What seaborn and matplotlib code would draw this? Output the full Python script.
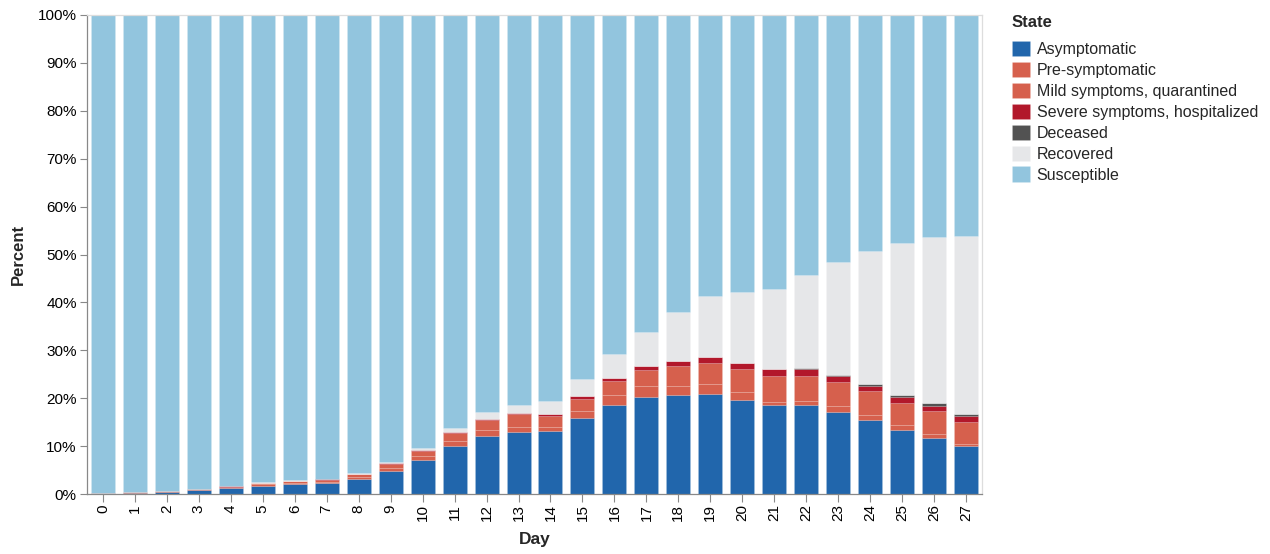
import numpy as np
import pandas as pd
import matplotlib
matplotlib.use("Agg")
import matplotlib.pyplot as plt
from matplotlib.patches import Patch
import seaborn as sns

days = list(range(28))
states = ["Asymptomatic", "Pre-symptomatic", "Mild symptoms, quarantined",
          "Severe symptoms, hospitalized", "Deceased", "Recovered", "Susceptible"]
colors = ["#2166ac", "#d6604d", "#d6604d", "#b2182b", "#525252", "#e6e7e9", "#92c5de"]

asymptomatic = [0.1, 0.2, 0.5, 0.77, 1.25, 1.74, 2.0, 2.2, 3.2, 4.9, 7.2, 10.0, 12.2, 12.9,
                13.2, 15.9, 18.6, 20.2, 20.6, 20.9, 19.7, 18.6, 18.5, 17.2, 15.4, 13.4, 11.7, 10.1]
pre_symptomatic = [0.05, 0.08, 0.08, 0.1, 0.14, 0.28, 0.3, 0.35, 0.4, 0.6, 0.8, 1.0, 1.2, 1.1,
                   0.7, 1.4, 2.1, 2.4, 2.0, 2.1, 1.5, 0.7, 1.0, 1.2, 1.1, 1.0, 0.8, 0.3]
mild = [0.05, 0.07, 0.07, 0.1, 0.14, 0.28, 0.4, 0.45, 0.5, 0.8, 1.0, 1.7, 2.0, 2.6,
        2.4, 2.6, 2.8, 3.3, 4.2, 4.3, 4.8, 5.3, 5.1, 5.0, 4.9, 4.7, 4.8, 4.7]
severe = [0.0, 0.02, 0.02, 0.05, 0.04, 0.05, 0.05, 0.07, 0.08, 0.1, 0.2, 0.2, 0.3, 0.25,
          0.5, 0.6, 0.7, 0.8, 1.0, 1.2, 1.3, 1.4, 1.6, 1.2, 1.2, 1.2, 1.1, 1.1]
deceased = [0.0, 0.0, 0.0, 0.0, 0.0, 0.0, 0.0, 0.0, 0.0, 0.0, 0.0, 0.0, 0.0, 0.0,
            0.0, 0.0, 0.0, 0.05, 0.05, 0.1, 0.15, 0.15, 0.2, 0.3, 0.4, 0.4, 0.5, 0.6]
recovered = [0.0, 0.02, 0.03, 0.05, 0.05, 0.08, 0.1, 0.15, 0.22, 0.35, 0.5, 0.9, 1.4, 1.8,
             2.6, 3.5, 5.0, 7.05, 10.05, 12.7, 14.75, 16.75, 19.4, 23.5, 27.7, 31.6, 34.7, 37.1]
susceptible = [99.8, 99.6, 99.3, 98.9, 98.4, 97.6, 97.2, 96.8, 95.6, 93.25, 90.3, 86.2, 82.9, 81.4,
               80.6, 76.0, 70.8, 66.2, 62.1, 58.7, 57.8, 57.1, 54.2, 51.6, 49.3, 47.7, 46.4, 46.1]

series = [asymptomatic, pre_symptomatic, mild, severe, deceased, recovered, susceptible]
rows = []
for st, vals in zip(states, series):
    for d, v in zip(days, vals):
        rows.append({"Day": d, "State": st, "Percent": v})
df = pd.DataFrame(rows)

sns.set_theme(style="white")
plt.rcParams["font.family"] = ["Liberation Sans", "DejaVu Sans"]

fig = plt.figure(figsize=(12.7, 5.54), dpi=100)
ax = fig.add_axes([87 / 1270, 1 - 494 / 554, 895 / 1270, 479 / 554])

edge = (1, 1, 1, 0.15)
palette = dict(zip(states, colors))
sns.histplot(data=df, x="Day", weights="Percent", hue="State",
             hue_order=states[::-1], palette=palette, multiple="stack",
             discrete=True, shrink=0.75, alpha=1, legend=False,
             edgecolor=edge, linewidth=0.5, ax=ax)

ax.set_xlim(-0.5, 27.5)
ax.set_ylim(0, 100)
ax.set_yticks(np.arange(0, 101, 10))
ax.set_yticklabels([f"{v}%" for v in range(0, 101, 10)])
ax.set_xticks(days)
ax.set_xticklabels([str(d) for d in days], rotation=90)

ax.tick_params(axis="both", which="both", length=5.4, width=0.8, color="#888888",
               labelsize=11, labelcolor="#000000", pad=2, left=True, bottom=True)
for side in ["left", "bottom"]:
    ax.spines[side].set_color("#888888")
    ax.spines[side].set_linewidth(0.9)
for side in ["top", "right"]:
    ax.spines[side].set_color("#dddddd")
    ax.spines[side].set_linewidth(0.9)

ax.set_ylabel("Percent", fontsize=12, fontweight="bold")
ax.yaxis.set_label_coords(-0.068, 0.5)
ax.set_xlabel("Day", fontsize=12.5, fontweight="bold")
ax.xaxis.set_label_coords(0.5, -0.079)

handles = [Patch(facecolor=c, edgecolor=edge, linewidth=0.5) for c in colors]
leg = fig.legend(handles, states, loc="upper left",
                 bbox_to_anchor=(1012 / 1270, 1 - 15 / 554),
                 title="State", frameon=False, fontsize=11.5,
                 title_fontproperties={"weight": "bold", "size": 12},
                 handlelength=1.1, handleheight=1.1, labelspacing=0.3,
                 handletextpad=0.45, borderpad=0, borderaxespad=0)
leg._legend_box.align = "left"
leg._legend_box.sep = 8

fig.savefig("out.png", dpi=100)
